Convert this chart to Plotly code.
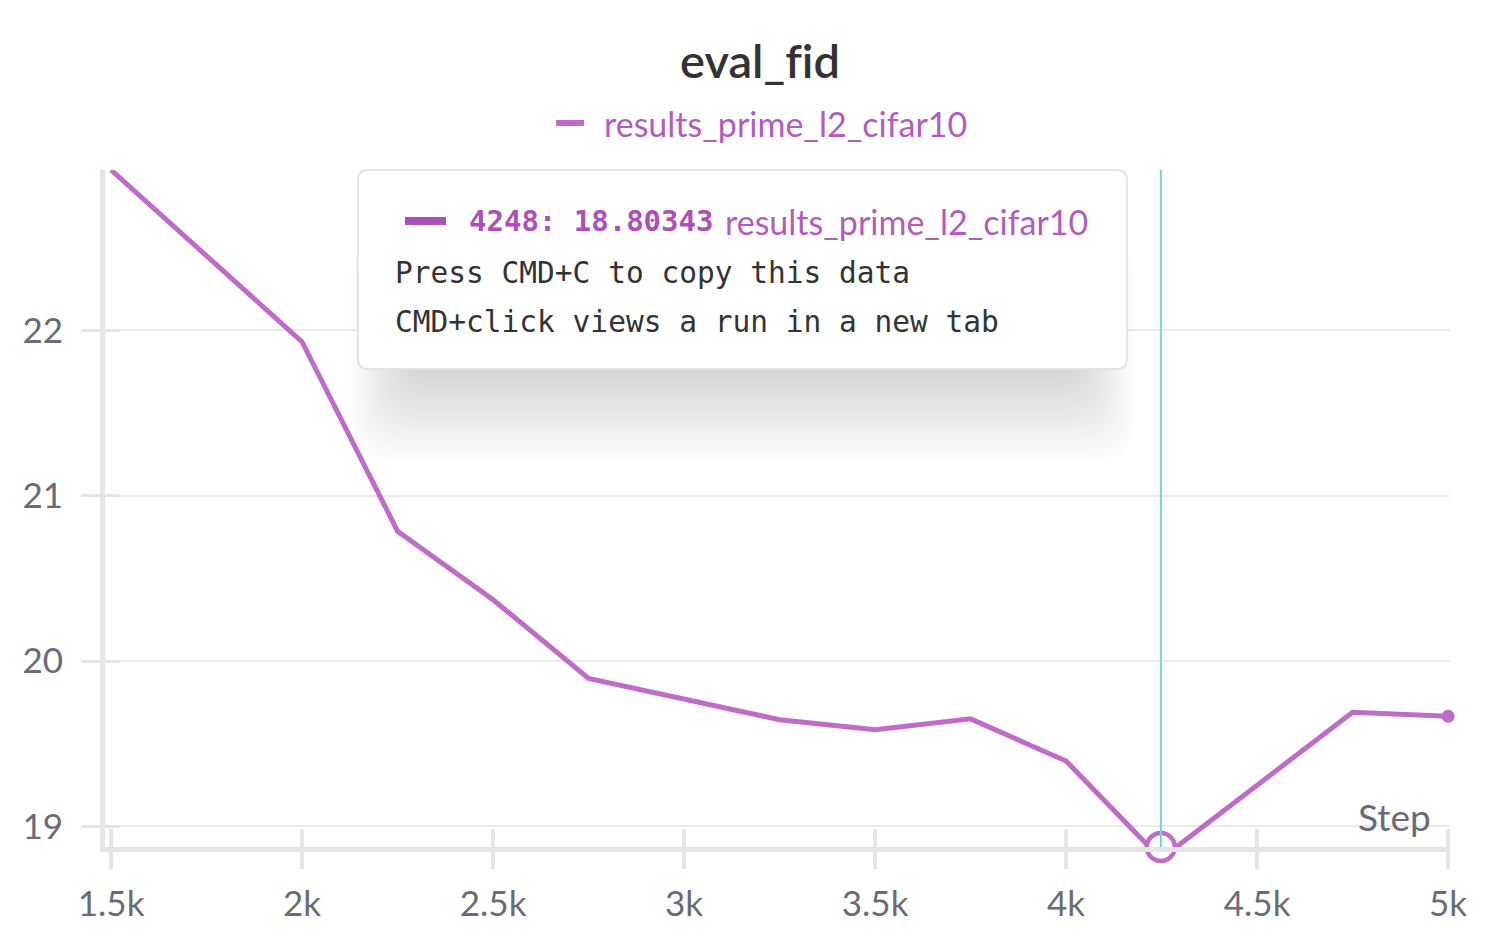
import plotly.graph_objects as go

# ---------------- data ----------------
title_text = "eval_f\u200cid"
run_name = "results_prime_l2_cifar10"
steps = [1500, 2000, 2250, 2500, 2750, 3250, 3500, 3750, 4000, 4248, 4750, 5000]
fid = [22.97, 21.93, 20.785, 20.37, 19.895, 19.645, 19.585, 19.65, 19.395, 18.80343, 19.69, 19.666]
x_tickvals = [1500, 2000, 2500, 3000, 3500, 4000, 4500, 5000]
x_ticktext = ["1.5k", "2k", "2.5k", "3k", "3.5k", "4k", "4.5k", "5k"]
y_tickvals = [19, 20, 21, 22]
x_title = "Step"
hover_step = 4248
tip_lines = ["Press CMD+C to copy this data", "CMD+click views a run in a new tab"]

X_RANGE = [1484, 5005]
Y_RANGE = [18.875, 22.97]

# ---------------- styling ----------------
W, H = 1494, 940
PL, PR, PT, PB = 105, 1450, 170, 847
LINE_C = "#bf6bc8"
TEXT_P = "#b35cbf"
TIP_P = "#ad4fb8"
AXIS_C = "#e5e5e8"
GRID_C = "#ebebeb"
TICK_FONT_C = "#6b6b76"
SANS = "Lato, 'Noto Sans', sans-serif"
MONO = "'DejaVu Sans Mono', monospace"


def px(x):
    return (x - PL) / (PR - PL)


def py(y):
    return (PB - y) / (PB - PT)


def rrect(x0, y0, x1, y1, r):
    pts = [
        ("M", [(x0 + r, y0)]), ("L", [(x1 - r, y0)]), ("Q", [(x1, y0), (x1, y0 + r)]),
        ("L", [(x1, y1 - r)]), ("Q", [(x1, y1), (x1 - r, y1)]), ("L", [(x0 + r, y1)]),
        ("Q", [(x0, y1), (x0, y1 - r)]), ("L", [(x0, y0 + r)]), ("Q", [(x0, y0), (x0 + r, y0)]),
    ]
    s = ""
    for cmd, ps in pts:
        s += cmd + " " + " ".join(f"{px(a):.5f},{py(b):.5f}" for a, b in ps) + " "
    return s + "Z"


hi = steps.index(hover_step)

fig = go.Figure()
fig.add_trace(go.Scatter(
    x=steps, y=fid, mode="lines", name=run_name,
    line=dict(color=LINE_C, width=5), showlegend=False, hoverinfo="skip",
))
fig.add_trace(go.Scatter(
    x=[steps[hi]], y=[max(fid[hi], Y_RANGE[0])], mode="markers", showlegend=False,
    marker=dict(size=28, color="white", line=dict(color=LINE_C, width=4.5)),
    cliponaxis=False, hoverinfo="skip",
))
fig.add_trace(go.Scatter(
    x=[steps[-1]], y=[fid[-1]], mode="markers", showlegend=False,
    marker=dict(size=13, color=LINE_C), cliponaxis=False, hoverinfo="skip",
    xaxis="x2", yaxis="y2",
))

shapes = []
# legend glyph
shapes.append(dict(type="line", xref="paper", yref="paper", x0=px(556), x1=px(584), y0=py(123), y1=py(123),
                   line=dict(color=LINE_C, width=6)))
# tooltip shadow (soft, layered)
for k in range(1, 26):
    shapes.append(dict(type="path", xref="paper", yref="paper",
                       path=rrect(425 - 3 * k, 260 - k, 1060 + 3 * k, 350 + 4.5 * k, 20 + k),
                       fillcolor="rgba(0,0,0,0.0085)", line=dict(width=0), layer="above"))
# tooltip box
shapes.append(dict(type="path", xref="paper", yref="paper", path=rrect(358, 170, 1127, 369, 10),
                   fillcolor="white", line=dict(color="#dedede", width=1.5), layer="above"))
shapes.append(dict(type="line", xref="paper", yref="paper", x0=px(405), x1=px(446), y0=py(221), y1=py(221),
                   line=dict(color=TIP_P, width=8), layer="above"))
# hover line
shapes.append(dict(type="line", xref="x", yref="paper", x0=hover_step, x1=hover_step, y0=0, y1=1,
                   line=dict(color="#6dd3dc", width=2), layer="above"))

annotations = [
    dict(text=run_name, xref="paper", yref="paper", x=px(602), y=py(123),
         xanchor="left", yanchor="middle", showarrow=False, font=dict(family=SANS, size=34, color=TEXT_P)),
    dict(text=f"<b>{steps[hi]}: {fid[hi]:.5f}</b>", xref="paper", yref="paper", x=px(467), y=py(221),
         xanchor="left", yanchor="middle", showarrow=False, font=dict(family=MONO, size=29, color=TIP_P)),
    dict(text=run_name, xref="paper", yref="paper", x=px(723), y=py(221),
         xanchor="left", yanchor="middle", showarrow=False, font=dict(family=SANS, size=34, color=TEXT_P)),
    dict(text=tip_lines[0], xref="paper", yref="paper", x=px(393), y=py(273),
         xanchor="left", yanchor="middle", showarrow=False, font=dict(family=MONO, size=29.5, color="#333333")),
    dict(text=tip_lines[1], xref="paper", yref="paper", x=px(393), y=py(322),
         xanchor="left", yanchor="middle", showarrow=False, font=dict(family=MONO, size=29.5, color="#333333")),
    dict(text=x_title, xref="paper", yref="paper", x=px(1433), y=py(816),
         xanchor="right", yanchor="middle", showarrow=False, font=dict(family=SANS, size=37, color=TICK_FONT_C)),
]

fig.update_layout(
    width=W, height=H,
    margin=dict(l=PL, r=W - PR, t=PT, b=H - PB),
    paper_bgcolor="white", plot_bgcolor="white",
    showlegend=False,
    title=dict(text=title_text, x=760 / W, xref="container", xanchor="center",
               y=1 - 62 / H, yref="container", yanchor="middle",
               font=dict(family=SANS, size=47, color="#333333", weight=600)),
    xaxis=dict(range=X_RANGE, tickvals=x_tickvals, ticktext=x_ticktext, showgrid=False, zeroline=False,
               showline=True, linecolor=AXIS_C, linewidth=5, ticks="outside", ticklen=17, tickwidth=4,
               tickcolor=AXIS_C, ticklabelstandoff=5,
               tickfont=dict(family=SANS, size=35, color=TICK_FONT_C)),
    yaxis=dict(range=Y_RANGE, tickvals=y_tickvals, showgrid=True, gridcolor=GRID_C, gridwidth=2,
               zeroline=False, showline=True, linecolor=AXIS_C, linewidth=5, ticks="outside",
               ticklen=19, tickwidth=3, tickcolor=AXIS_C, ticklabelstandoff=11,
               tickfont=dict(family=SANS, size=35, color=TICK_FONT_C)),
    xaxis2=dict(overlaying="x", matches="x", anchor="y2", tickvals=x_tickvals, showticklabels=False,
                showgrid=False, zeroline=False, showline=False, ticks="inside", ticklen=18, tickwidth=4,
                tickcolor=AXIS_C),
    yaxis2=dict(overlaying="y", matches="y", anchor="x2", side="left", tickvals=y_tickvals,
                showticklabels=False, showgrid=False, zeroline=False, showline=False, ticks="inside",
                ticklen=15, tickwidth=3, tickcolor=AXIS_C),
    shapes=shapes, annotations=annotations,
)

fig.write_html("out.html")
